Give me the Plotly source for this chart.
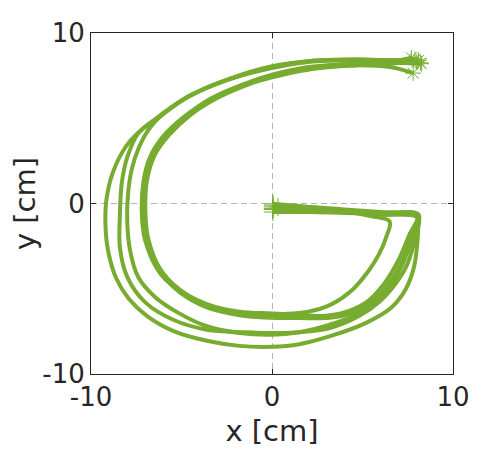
import plotly.graph_objects as go

# trajectories of the drawn "G", start (+) -> end (*), in cm
a1_x = [0.05, 2.0, 4.0, 5.5, 6.5, 6.3, 5.9, 5.3, 4.4, 3.3, 2.0, 0.0, -1.8, -3.6, -5.0, -6.1, -6.7, -7.0, -7.1, -7.0, -6.65, -6.0, -5.0, -3.7, -2.0, 0.0, 2.0, 4.5, 6.5, 7.8]
a1_y = [-0.02, -0.2, -0.45, -0.75, -1.05, -2.0, -3.0, -4.0, -5.1, -5.9, -6.35, -6.5, -6.4, -6.0, -5.2, -4.2, -3.1, -1.8, 0.0, 1.5, 2.6, 3.7, 4.8, 5.9, 6.8, 7.45, 7.9, 8.1, 8.0, 7.65]

a2_x = [0.05, 2.0, 4.0, 6.0, 8.05, 7.6, 7.0, 6.2, 5.2, 3.8, 2.0, 0.0, -1.8, -3.6, -5.1, -6.2, -6.9, -7.1, -7.0, -6.65, -5.9, -4.8, -3.3, -1.6, 0.0, 2.0, 4.5, 6.5, 7.7]
a2_y = [-0.2, -0.3, -0.45, -0.6, -0.7, -1.8, -3.3, -4.7, -5.8, -6.45, -6.65, -6.6, -6.45, -6.05, -5.2, -3.9, -2.3, -0.5, 1.2, 2.7, 3.9, 5.0, 6.1, 6.9, 7.5, 7.95, 8.2, 8.3, 8.55]

a3_x = [0.05, 2.0, 4.0, 6.0, 8.0, 7.7, 7.2, 6.5, 5.5, 4.2, 3.2, 1.5, 0.0, -1.8, -3.6, -5.2, -6.3, -7.0, -7.2, -7.1, -6.75, -6.0, -4.9, -3.4, -1.7, 0.0, 2.0, 4.5, 6.5, 8.25]
a3_y = [-0.3, -0.4, -0.5, -0.65, -0.8, -2.0, -3.4, -4.7, -5.8, -6.5, -6.7, -6.72, -6.7, -6.55, -6.1, -5.1, -3.8, -2.2, -0.4, 1.3, 2.7, 3.95, 5.05, 6.15, 6.95, 7.55, 8.0, 8.2, 8.25, 8.2]

a4_x = [0.05, 2.0, 4.0, 6.0, 8.1, 7.8, 7.3, 6.6, 5.7, 4.5, 3.2, 1.8, 0.0, -1.8, -3.6, -5.1, -6.2, -6.85, -7.0, -6.9, -6.5, -5.7, -4.5, -3.0, -1.4, 0.0, 2.0, 4.5, 6.5, 8.1]
a4_y = [-0.5, -0.5, -0.55, -0.6, -0.65, -1.8, -3.2, -4.5, -5.6, -6.35, -6.6, -6.55, -6.45, -6.35, -5.9, -5.05, -3.8, -2.0, -0.2, 1.4, 2.8, 4.0, 5.2, 6.2, 6.95, 7.4, 7.85, 8.1, 8.2, 8.4]

b1_x = [0.05, 2.0, 4.0, 6.0, 8.05, 7.9, 7.5, 6.9, 6.0, 4.8, 3.2, 1.5, 0.0, -1.5, -3.6, -5.4, -7.0, -8.0, -8.4, -8.4, -8.3, -8.0, -7.4, -6.45, -4.6, -2.4, 0.0, 2.0, 4.5, 6.5, 7.9]
b1_y = [-0.1, -0.25, -0.4, -0.6, -0.75, -2.0, -3.5, -4.6, -5.7, -6.6, -7.3, -7.55, -7.6, -7.55, -7.4, -6.85, -5.8, -4.3, -2.6, -0.6, 1.2, 2.7, 4.1, 4.95, 6.3, 7.3, 8.05, 8.35, 8.45, 8.4, 8.45]

b2_x = [0.05, 2.0, 4.0, 6.0, 8.1, 7.7, 7.2, 6.5, 5.6, 4.4, 3.2, 1.5, 0.0, -1.8, -3.6, -5.2, -6.45, -7.4, -7.85, -8.0, -7.95, -7.75, -7.35, -6.7, -5.6, -4.0, -2.2, 0.0, 2.0, 4.5, 6.5, 8.2]
b2_y = [-0.35, -0.4, -0.5, -0.65, -0.85, -2.2, -3.6, -4.9, -5.9, -6.65, -7.1, -7.55, -7.7, -7.6, -7.2, -6.4, -5.5, -4.3, -2.7, -1.0, 0.6, 2.0, 3.3, 4.5, 5.6, 6.6, 7.35, 7.95, 8.3, 8.4, 8.35, 8.25]

c1_x = [0.33, 2.0, 4.0, 6.0, 8.0, 8.07, 8.05, 7.85, 7.4, 6.6, 5.2, 3.3, 1.5, 0.0, -1.8, -3.6, -5.4, -6.9, -7.9, -8.6, -9.05, -9.2, -9.15, -8.8, -8.1, -7.4, -6.45, -4.6, -2.4, 0.0, 2.0, 4.5, 6.5, 8.0]
c1_y = [-0.2, -0.2, -0.35, -0.5, -0.65, -1.0, -2.0, -3.7, -5.0, -6.1, -7.0, -7.75, -8.25, -8.4, -8.35, -8.05, -7.5, -6.6, -5.6, -4.4, -2.8, -1.3, 0.2, 1.8, 3.3, 4.15, 4.9, 6.27, 7.26, 8.0, 8.35, 8.45, 8.4, 8.3]

trajectories = [(a1_x, a1_y), (a2_x, a2_y), (a3_x, a3_y), (a4_x, a4_y),
                (b1_x, b1_y), (b2_x, b2_y), (c1_x, c1_y)]

tick_vals = [-10, 0, 10]
tick_text = ['-10', '0', '10']

green = '#77AC30'
dark = '#262626'

fig = go.Figure()
for xs, ys in trajectories:
    fig.add_trace(go.Scatter(x=xs, y=ys, mode='lines', line=dict(color=green, width=4, shape='spline', smoothing=1),
                             showlegend=False, hoverinfo='skip'))
    fig.add_trace(go.Scatter(x=[xs[0]], y=[ys[0]], mode='markers', showlegend=False,
                             marker=dict(symbol='cross-thin-open', size=13, color=green, line=dict(color=green, width=1))))
    fig.add_trace(go.Scatter(x=[xs[-1]], y=[ys[-1]], mode='markers', showlegend=False,
                             marker=dict(symbol='asterisk-open', size=13, color=green, line=dict(color=green, width=1))))

axis_style = dict(range=[-10, 10], tickvals=tick_vals, ticktext=tick_text, ticks='inside', ticklen=5, tickcolor=dark,
                  showline=True, linecolor=dark, linewidth=1, mirror='ticks', zeroline=False, automargin=False,
                  showgrid=True, gridcolor='#b3b3b3', gridwidth=1, griddash='6px,4px',
                  tickfont=dict(size=26, color=dark, family='DejaVu Sans'))

# page body adds ~8px, so the figure is a bit smaller than the window
fig.update_layout(
    width=492, height=442,
    margin=dict(l=83, r=47, t=25, b=76),
    paper_bgcolor='white', plot_bgcolor='white',
    font=dict(family='DejaVu Sans', color=dark),
    xaxis=dict(title=dict(text='x [cm]', font=dict(size=29, color=dark), standoff=9), **axis_style),
    yaxis=dict(title=dict(text='y [cm]', font=dict(size=29, color=dark), standoff=9), **axis_style),
)

fig.write_html("out.html")
